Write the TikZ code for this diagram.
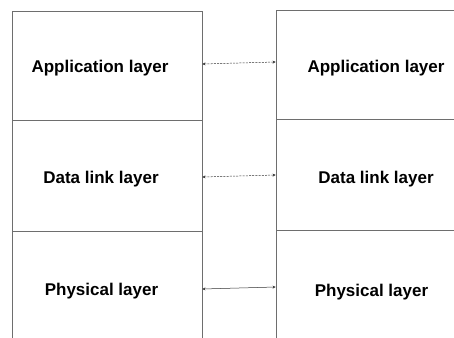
\documentclass[tikz,border=0pt]{standalone}
\usepackage{fontspec}
\setmainfont{Liberation Sans}
\usetikzlibrary{arrows.meta}
\definecolor{boxline}{HTML}{6E6E6E}
\definecolor{linkline}{HTML}{333333}
\begin{document}
\begin{tikzpicture}[x=1pt, y=-1pt,
        layerbox/.style={rectangle, draw=boxline, line width=0.8pt, minimum width=190pt, minimum height=110pt, inner sep=0pt},
        layertext/.style={anchor=base, font=\fontsize{17}{20}\selectfont\bfseries},
        peer/.style={linkline, line width=0.5pt, {Stealth[length=3pt,width=3pt]}-{Stealth[length=3pt,width=3pt]}},
        virtual/.style={peer, dash pattern=on 2pt off 1.2pt}
    ]
        \useasboundingbox (0,0) rectangle (454,337);

        \node[layerbox, minimum height=109pt] (lapp) at (107,65.5) {};
        \node[layerbox, minimum height=111pt] (llink) at (107,175.5) {};
        \node[layerbox] (lphys) at (107,286) {};

        \node[layerbox, minimum height=109pt] (rapp) at (371,64.5) {};
        \node[layerbox, minimum height=111pt] (rlink) at (371,174.5) {};
        \node[layerbox] (rphys) at (371,285) {};

        \node[layertext] (lappt) at (100,72) {Application layer};
        \node[layertext] (llinkt) at (101,183) {Data link layer};
        \node[layertext] (lphyst) at (101.5,295) {Physical layer};
        \node[layertext] (rappt) at (376,72) {Application layer};
        \node[layertext] (rlinkt) at (376,183) {Data link layer};
        \node[layertext] (rphyst) at (371.5,296) {Physical layer};

        \draw[virtual] ([yshift=1.5pt]lapp.east) -- ([yshift=2.5pt]rapp.west);
        \draw[virtual] ([yshift=-1.5pt]llink.east) -- ([yshift=-0.5pt]rlink.west);
        \draw[peer] ([yshift=-3pt]lphys.east) -- ([yshift=-2pt]rphys.west);
    \end{tikzpicture}
\end{document}
